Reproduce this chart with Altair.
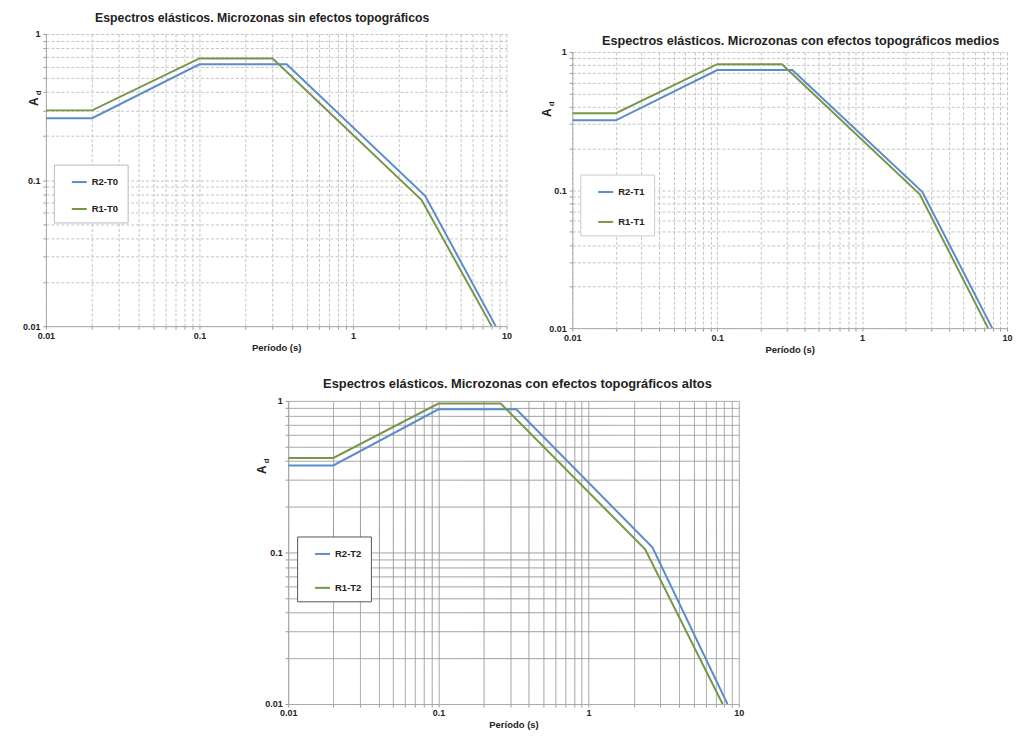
import altair as alt
import pandas as pd

# ---------------- data ----------------
X_TICKS = [m * 10.0 ** e for e in (-2, -1, 0) for m in range(1, 10)] + [10.0]
Y_TICKS = [m * 10.0 ** e for e in (-2, -1) for m in range(1, 10)] + [1.0]

# Panel 1: sin efectos topográficos
t_r2_t0 = [0.01, 0.02, 0.1, 0.37, 2.95, 8.5]
a_r2_t0 = [0.265, 0.265, 0.62, 0.62, 0.078, 0.01]
t_r1_t0 = [0.01, 0.02, 0.1, 0.30, 2.8, 8.0]
a_r1_t0 = [0.30, 0.30, 0.68, 0.68, 0.073, 0.01]

# Panel 2: efectos topográficos medios
t_r2_t1 = [0.01, 0.02, 0.1, 0.33, 2.6, 7.9]
a_r2_t1 = [0.32, 0.32, 0.74, 0.74, 0.097, 0.01]
t_r1_t1 = [0.01, 0.02, 0.1, 0.28, 2.5, 7.4]
a_r1_t1 = [0.36, 0.36, 0.815, 0.815, 0.093, 0.01]

# Panel 3: efectos topográficos altos
t_r2_t2 = [0.01, 0.02, 0.1, 0.33, 2.66, 8.4]
a_r2_t2 = [0.375, 0.375, 0.88, 0.88, 0.108, 0.01]
t_r1_t2 = [0.01, 0.02, 0.1, 0.26, 2.38, 7.8]
a_r1_t2 = [0.42, 0.42, 0.96, 0.96, 0.105, 0.01]

BLUE = "#5b8ccc"
GREEN = "#78964a"
FONT = "Liberation Sans"

POW10 = "abs(log(datum.value)/LN10 - round(log(datum.value)/LN10)) < 0.001 ? format(datum.value, '~g') : ''"


def panel(t2, a2, t1, a1, n2, n1, title, w, h, lx, ly, rowpad, grid_color, grid_dash,
          box_color, a_x, a_y, t_size, t_dx, t_off):
    df = pd.DataFrame({
        "T": t2 + t1,
        "Ad": a2 + a1,
        "serie": [n2] * len(t2) + [n1] * len(t1),
        "ord": list(range(len(t2))) + list(range(len(t1))),
    })
    xaxis = alt.Axis(values=X_TICKS, labelExpr=POW10, title="Período (s)", grid=True,
                     gridColor=grid_color, gridDash=grid_dash, gridWidth=1,
                     labelFont=FONT, labelFontSize=9, labelFontWeight="bold", labelColor="#222",
                     titleFont=FONT, titleFontSize=9.5, titleFontWeight="bold", titleColor="#222",
                     titlePadding=2, tickSize=3, tickColor="#999", domainColor="#aaa",
                     labelOverlap=False, labelFlush=False)
    yaxis = alt.Axis(values=Y_TICKS, labelExpr=POW10, title=None, grid=True,
                     gridColor=grid_color, gridDash=grid_dash, gridWidth=1,
                     labelFont=FONT, labelFontSize=9, labelFontWeight="bold", labelColor="#222",
                     tickSize=3, tickColor="#999", domainColor="#aaa",
                     labelOverlap=False, labelFlush=False, labelPadding=3)
    lines = alt.Chart(df).mark_line(strokeWidth=2, clip=True).encode(
        x=alt.X("T:Q", scale=alt.Scale(type="log", domain=[0.01, 10]), axis=xaxis),
        y=alt.Y("Ad:Q", scale=alt.Scale(type="log", domain=[0.01, 1]), axis=yaxis),
        color=alt.Color("serie:N", scale=alt.Scale(domain=[n2, n1], range=[BLUE, GREEN]),
                        legend=alt.Legend(title=None, orient="none", legendX=lx, legendY=ly,
                                          symbolType="stroke", symbolSize=225, symbolStrokeWidth=2,
                                          symbolOffset=8, labelOffset=4,
                                          labelExpr="datum.label + '   '",
                                          labelFont=FONT, labelFontSize=9.5, labelFontWeight="bold",
                                          labelColor="#222", rowPadding=rowpad, padding=9,
                                          fillColor="white", strokeColor=box_color,
                                          labelLimit=90)),
        order="ord:Q",
    )
    a_txt = alt.Chart(pd.DataFrame({"s": ["A"]})).mark_text(
        angle=270, font=FONT, fontSize=12, fontWeight="bold", color="#222", baseline="alphabetic"
    ).encode(text="s:N", x=alt.value(a_x), y=alt.value(a_y))
    d_txt = alt.Chart(pd.DataFrame({"s": ["d"]})).mark_text(
        angle=270, font=FONT, fontSize=8, fontWeight="bold", color="#222", baseline="alphabetic"
    ).encode(text="s:N", x=alt.value(a_x + 3), y=alt.value(a_y - 9))
    return alt.layer(lines, a_txt, d_txt).properties(
        width=w, height=h,
        title=alt.Title(title, font=FONT, fontSize=t_size, fontWeight="bold", color="#222",
                        offset=t_off, dx=t_dx),
    )


def spacer(w, h):
    return alt.Chart(pd.DataFrame({"v": [0.5]})).mark_point(opacity=0, size=1).encode(
        x=alt.X("v:Q", axis=None, scale=alt.Scale(domain=[0, 1])),
        y=alt.Y("v:Q", axis=None, scale=alt.Scale(domain=[0, 1])),
    ).properties(width=w, height=h)


p1 = panel(t_r2_t0, a_r2_t0, t_r1_t0, a_r1_t0, "R2-T0", "R1-T0",
           "Espectros elásticos. Microzonas sin efectos topográficos",
           462, 293, 8, 131, 14, "#c4c4c4", [3, 2], "#bbbbbb", -8, 68, 12.3, -14, 6)
p2 = panel(t_r2_t1, a_r2_t1, t_r1_t1, a_r1_t1, "R2-T1", "R1-T1",
           "Espectros elásticos. Microzonas con efectos topográficos medios",
           436, 277, 8, 123, 17, "#c4c4c4", [3, 2], "#cccccc", -21, 61, 12.7, 11, 0)
p3 = panel(t_r2_t2, a_r2_t2, t_r1_t2, a_r1_t2, "R2-T2", "R1-T2",
           "Espectros elásticos. Microzonas con efectos topográficos altos",
           452, 304, 9, 136, 21, "#9a9a9a", [1, 0], "#555555", -22, 69, 12.9, 4, 6)

right = alt.vconcat(spacer(10, 1), p2, spacing=0).resolve_scale(color="independent")
top = alt.hconcat(p1, right, spacing=29).resolve_scale(color="independent")
bottom = alt.hconcat(spacer(211, 1), p3, spacing=0).resolve_scale(color="independent")
chart = alt.vconcat(top, bottom, spacing=24).resolve_scale(color="independent").configure_view(
    stroke=None
).properties(padding={"left": 14, "top": 2, "right": 0, "bottom": 0})

chart.save("out.html", embed_options={"renderer": "svg", "actions": False})
